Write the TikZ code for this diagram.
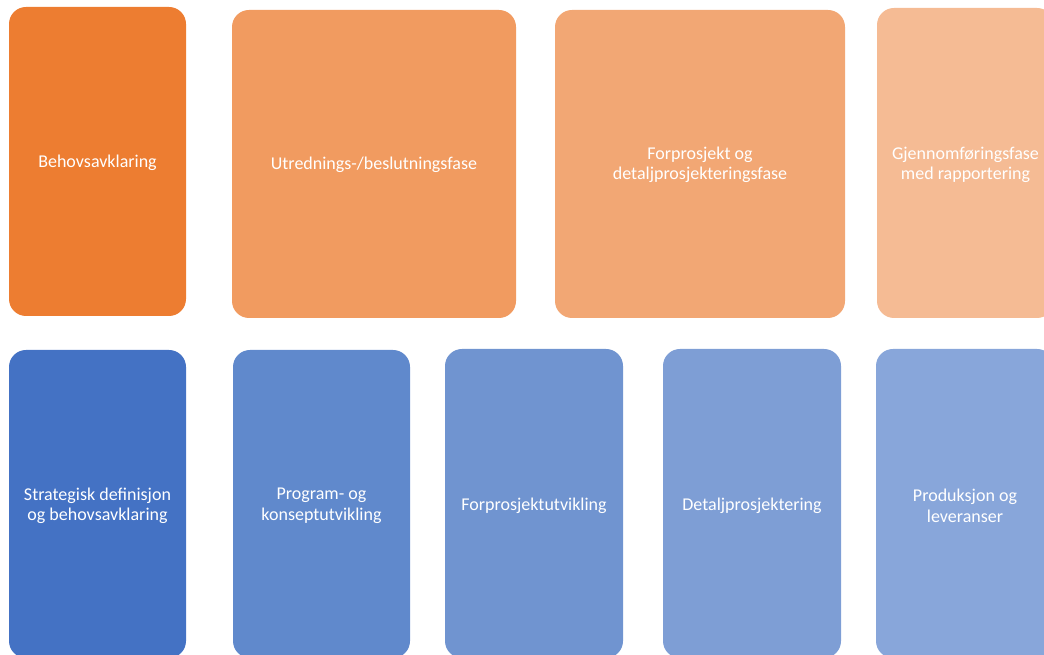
\documentclass[tikz,border=0pt]{standalone}
\usepackage{fontspec}
\setmainfont{Carlito}
\definecolor{orA}{HTML}{ED7D31}
\definecolor{orB}{HTML}{F19B60}
\definecolor{orC}{HTML}{F2A774}
\definecolor{orD}{HTML}{F5BB94}
\definecolor{blA}{HTML}{4472C4}
\definecolor{blB}{HTML}{6089CC}
\definecolor{blC}{HTML}{7094D0}
\definecolor{blD}{HTML}{7E9ED5}
\definecolor{blE}{HTML}{88A6DA}
\tikzset{
  phase/.style={rounded corners=17pt, inner sep=0pt},
  lbl/.style={text=white, font=\fontsize{18}{20.5}\selectfont, align=center}
}
\begin{document}
\begin{tikzpicture}[x=1pt,y=1pt]
\useasboundingbox (0,0) rectangle (1044,655);
% upper row: project phases
\fill[orA,phase] (9,339) rectangle (186,648);
\fill[orB,phase] (232,337) rectangle (516,645);
\fill[orC,phase] (555,337) rectangle (845,645);
\fill[orD,phase] (877,337) rectangle (1054,647);
\node[lbl] (t1) at (97.5,492) {Behovsavklaring};
\node[lbl] (t2) at (374,490) {Utrednings-/beslutningsfase};
\node[lbl] (t3) at (700,490) {Forprosjekt og\\detaljprosjekteringsfase};
\node[lbl] (t4) at (965.5,490) {Gjennomføringsfase\\med rapportering};
% lower row: delivery steps
\fill[blA,phase] (9,-3) rectangle (186,305);
\fill[blB,phase] (233,-3) rectangle (410,305);
\fill[blC,phase] (445,-3) rectangle (623,306);
\fill[blD,phase] (663,-3) rectangle (841,306);
\fill[blE,phase] (876,-3) rectangle (1054,306);
\node[lbl] (b1) at (97.5,149) {Strategisk definisjon\\og behovsavklaring};
\node[lbl] (b2) at (321.5,149) {Program- og\\konseptutvikling};
\node[lbl] (b3) at (534,149.5) {Forprosjektutvikling};
\node[lbl] (b4) at (752,149.5) {Detaljprosjektering};
\node[lbl] (b5) at (965,149) {Produksjon og\\leveranser};
\end{tikzpicture}
\end{document}
